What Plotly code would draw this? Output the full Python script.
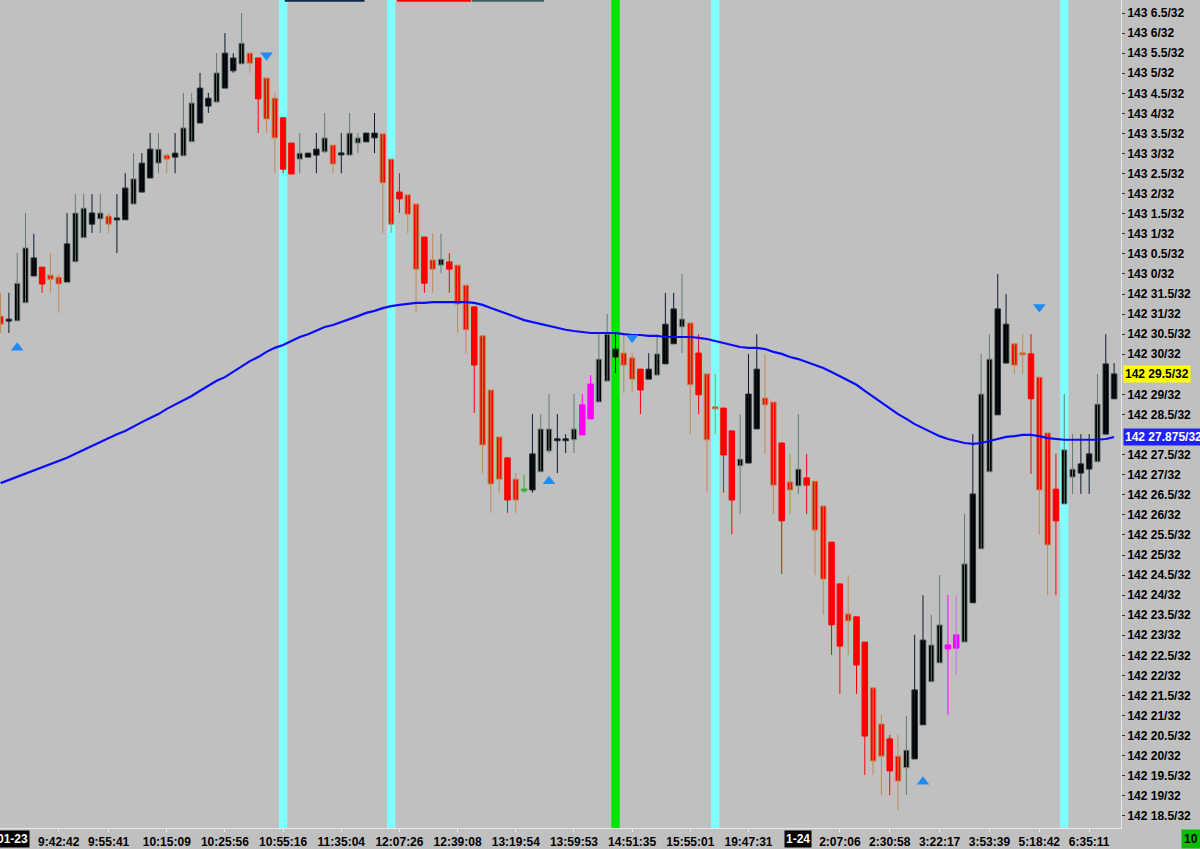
import plotly.graph_objects as go

# ---- price data in 32nds above 142 (e.g. 29.5 -> 142 29.5/32) ----
opens = [30.95, 30.85, 30.83, 31.28, 31.95, 32.17, 31.97, 31.92, 31.80, 32.30,
         32.90, 33.24, 33.37, 33.44, 33.37, 33.35, 33.74, 34.04, 34.39, 34.76,
         34.96, 34.91, 34.94, 35.29, 35.76, 36.18, 36.28, 36.63, 37.06, 37.23,
         37.50, 37.38, 36.88, 36.38, 35.89, 35.26, 34.86, 34.91, 34.96, 35.04,
         35.21, 34.99, 34.96, 35.26, 35.29, 35.39, 35.49, 34.86, 34.04, 33.97,
         33.74, 32.92, 32.35, 32.22, 32.30, 32.22, 31.72, 31.18, 30.46, 29.11,
         27.94, 27.42, 26.89, 26.62, 26.62, 27.07, 27.59, 27.87, 27.87, 27.87,
         27.99, 28.39, 28.81, 29.33, 29.93, 30.03, 29.91, 29.63, 29.38, 29.48,
         29.76, 30.26, 30.68, 30.78, 30.03, 29.51, 28.69, 28.66, 28.09, 27.22,
         27.29, 28.14, 28.91, 28.81, 27.79, 26.82, 26.72, 26.92, 26.84, 26.22,
         25.32, 24.28, 23.53, 23.46, 22.83, 21.69, 20.79, 20.42, 19.99, 19.70,
         19.92, 20.77, 21.84, 22.31, 22.66, 22.68, 22.83, 23.81, 25.15, 27.07,
         28.49, 29.78, 30.26, 30.01, 30.01, 29.43, 28.04, 26.64, 26.27, 26.94,
         27.04, 27.14, 27.32, 28.01, 28.89]
highs = [31.53, 31.53, 32.52, 33.52, 33.00, 32.17, 32.52, 32.00, 33.52, 33.99,
         33.99, 33.99, 33.99, 33.52, 33.99, 34.51, 35.01, 35.01, 35.51, 35.51,
         35.01, 35.51, 36.51, 36.51, 37.01, 36.51, 37.50, 38.00, 37.50, 38.50,
         37.50, 37.38, 36.88, 36.51, 35.89, 35.26, 35.51, 35.01, 35.51, 36.01,
         35.21, 35.51, 36.01, 35.51, 35.51, 36.01, 35.49, 34.86, 34.51, 33.97,
         33.74, 32.92, 33.02, 33.00, 32.52, 32.22, 31.72, 31.18, 30.46, 29.11,
         27.94, 27.42, 27.04, 26.99, 28.51, 28.51, 29.01, 28.51, 28.01, 29.01,
         29.01, 29.48, 30.50, 31.00, 30.53, 30.53, 30.03, 29.63, 30.03, 30.50,
         31.53, 31.53, 32.00, 30.78, 30.50, 29.51, 29.51, 28.66, 28.09, 28.51,
         30.01, 30.50, 30.01, 28.81, 27.79, 27.52, 28.51, 27.52, 26.84, 26.22,
         25.32, 24.28, 24.50, 23.46, 22.83, 21.69, 21.02, 20.52, 20.52, 20.99,
         23.01, 24.00, 23.51, 24.50, 24.00, 24.00, 26.02, 28.01, 30.01, 30.50,
         32.00, 31.50, 30.26, 30.50, 30.50, 29.43, 28.04, 27.52, 29.01, 28.01,
         28.01, 28.01, 29.51, 30.50, 29.78]
lows = [30.53, 30.53, 30.83, 31.28, 31.95, 31.53, 31.53, 31.03, 31.80, 32.30,
        32.90, 33.02, 33.02, 33.02, 32.52, 33.35, 33.74, 34.04, 34.39, 34.51,
        34.51, 34.51, 34.94, 35.29, 35.76, 36.01, 36.28, 36.63, 37.01, 37.23,
        37.01, 35.51, 35.51, 34.51, 34.51, 34.49, 34.51, 34.91, 34.51, 35.01,
        34.51, 34.51, 34.96, 35.01, 35.29, 35.01, 33.02, 33.02, 33.52, 33.02,
        31.03, 31.53, 31.53, 32.02, 31.53, 30.53, 30.03, 28.54, 27.04, 26.05,
        26.55, 26.05, 26.05, 26.55, 26.55, 27.07, 27.54, 27.04, 27.54, 27.54,
        27.99, 28.39, 28.81, 29.33, 29.53, 29.04, 29.04, 28.51, 29.38, 29.48,
        29.76, 30.26, 30.03, 28.01, 28.51, 26.55, 28.01, 26.55, 25.52, 26.02,
        27.29, 28.14, 27.52, 26.02, 24.53, 26.02, 26.52, 26.02, 24.50, 23.51,
        22.51, 21.54, 22.51, 21.54, 19.52, 19.52, 19.02, 19.02, 18.65, 19.02,
        19.92, 20.77, 21.84, 22.31, 21.02, 22.01, 22.83, 23.81, 25.15, 27.07,
        28.49, 29.78, 29.51, 29.51, 27.02, 25.50, 24.00, 24.00, 26.27, 26.52,
        26.52, 26.52, 27.32, 28.01, 28.89]
closes = [30.75, 30.85, 31.77, 32.65, 32.40, 31.75, 31.87, 31.75, 32.75, 33.52,
          33.64, 33.52, 33.52, 33.24, 33.37, 34.14, 34.37, 34.76, 35.11, 35.11,
          34.86, 35.01, 35.64, 36.26, 36.63, 36.38, 37.01, 37.50, 37.38, 37.75,
          37.25, 36.36, 35.86, 35.39, 34.61, 34.49, 35.01, 35.01, 35.11, 35.39,
          34.74, 34.99, 35.51, 35.39, 35.51, 35.51, 34.27, 33.24, 33.87, 33.49,
          32.12, 31.77, 32.12, 32.37, 32.12, 31.25, 30.61, 29.73, 27.74, 26.77,
          26.89, 26.37, 26.37, 26.62, 27.52, 28.14, 28.14, 27.87, 27.87, 28.14,
          28.74, 29.26, 29.88, 30.50, 30.13, 29.73, 29.38, 29.11, 29.63, 30.01,
          30.75, 31.13, 30.88, 29.24, 28.99, 27.87, 28.64, 27.49, 26.37, 27.39,
          29.01, 29.63, 28.74, 26.74, 25.85, 26.62, 27.14, 26.74, 25.62, 24.40,
          23.26, 22.73, 23.36, 22.26, 20.49, 19.87, 19.99, 19.62, 19.37, 20.14,
          21.64, 22.88, 22.76, 23.26, 22.76, 23.01, 24.78, 26.52, 29.01, 29.88,
          31.13, 30.75, 29.73, 30.01, 28.89, 26.62, 25.25, 25.85, 27.62, 27.14,
          27.27, 27.52, 28.76, 29.76, 29.51]
# body kind: r=red (down), k=black (up), m=magenta, g=green
body_kind = ("rkkkkrrrkk" "kkkrkkkkkk" "rkkkkkkkkk" "rrrrrrkkkk" "rkkkkkrrrr"
             "rrrkrrrrrr" "rrrgkkkkkk" "mmkkkrrrkk" "kkkrrrrrrk" "kkrrrrkrrr"
             "rrrrrrrrrk" "kkkkmmkkkk" "kkrrrrrrkk" "kkkkk")
# wick kind: t=tan, r=red, d=dark, s=slate, m=magenta, p=purple, g=green
wick_kind = ("tdssdrttds" "sdstddsdds" "tdssddsdds" "trttrrsdds" "tdssddttrt"
             "trtsrttrtt" "trtgdssdds" "mmssdttrds" "ddstrttrrs" "ddttrtsrtt"
             "rrtrrttrts" "ddssmpsdss" "ddttrttrss" "ddsdd")
moving_avg = [26.79, 26.87, 26.94, 27.04, 27.12, 27.19, 27.27, 27.34, 27.42, 27.52,
              27.62, 27.72, 27.82, 27.91, 28.01, 28.09, 28.21, 28.31, 28.41, 28.51,
              28.64, 28.74, 28.84, 28.96, 29.09, 29.21, 29.34, 29.43, 29.56, 29.71,
              29.83, 29.93, 30.06, 30.16, 30.23, 30.33, 30.43, 30.50, 30.60, 30.68,
              30.73, 30.80, 30.88, 30.95, 31.03, 31.08, 31.15, 31.20, 31.23, 31.25,
              31.28, 31.28, 31.30, 31.30, 31.30, 31.30, 31.30, 31.28, 31.23, 31.15,
              31.08, 31.00, 30.93, 30.85, 30.80, 30.75, 30.70, 30.65, 30.61, 30.58,
              30.55, 30.53, 30.53, 30.53, 30.53, 30.50, 30.48, 30.48, 30.46, 30.46,
              30.43, 30.43, 30.43, 30.43, 30.41, 30.38, 30.33, 30.28, 30.23, 30.18,
              30.16, 30.16, 30.13, 30.06, 30.01, 29.93, 29.88, 29.81, 29.73, 29.66,
              29.56, 29.46, 29.36, 29.24, 29.09, 28.94, 28.79, 28.64, 28.51, 28.39,
              28.26, 28.16, 28.06, 27.96, 27.89, 27.84, 27.79, 27.77, 27.79, 27.84,
              27.89, 27.94, 27.96, 27.99, 27.99, 27.96, 27.91, 27.89, 27.87, 27.87,
              27.87, 27.87, 27.87, 27.89, 27.94]

signal_idx = [2, 32, 66, 76, 111, 125]
signal_val = [30.16, 37.45, 26.84, 30.41, 19.35, 31.18]
signal_dir = ["up", "down", "up", "down", "up", "down"]

cyan_bars = [34, 47, 86, 128]
green_bars = [74]

x_tick_idx = [7, 13, 20, 27, 34, 41, 48, 55, 62, 69, 76, 83, 90, 101, 107, 113, 119, 125, 131]
x_tick_text = ["9:42:42", "9:55:41", "10:15:09", "10:25:56", "10:55:16", "11:35:04",
               "12:07:26", "12:39:08", "13:19:54", "13:59:53", "14:51:35", "15:55:01",
               "19:47:31", "2:07:06", "2:30:58", "3:22:17", "3:53:39", "5:18:42", "6:35:11"]
date_idx = [96]
date_text = ["1-24"]

# 142 28/32 and 142 29.5/32 are covered by the blue / yellow value boxes
y_tick_vals = [18.5, 19, 19.5, 20, 20.5, 21, 21.5, 22, 22.5, 23, 23.5, 24, 24.5, 25,
               25.5, 26, 26.5, 27, 27.5, 28.5, 29, 30, 30.5,
               31, 31.5, 32, 32.5, 33, 33.5, 34, 34.5, 35, 35.5, 36, 36.5, 37, 37.5, 38, 38.5]
y_tick_text = ["142 18.5/32", "142 19/32", "142 19.5/32", "142 20/32", "142 20.5/32",
               "142 21/32", "142 21.5/32", "142 22/32", "142 22.5/32", "142 23/32",
               "142 23.5/32", "142 24/32", "142 24.5/32", "142 25/32", "142 25.5/32",
               "142 26/32", "142 26.5/32", "142 27/32", "142 27.5/32",
               "142 28.5/32", "142 29/32", "142 30/32", "142 30.5/32",
               "142 31/32", "142 31.5/32", "143 0/32", "143 0.5/32", "143 1/32",
               "143 1.5/32", "143 2/32", "143 2.5/32", "143 3/32", "143 3.5/32",
               "143 4/32", "143 4.5/32", "143 5/32", "143 5.5/32", "143 6/32", "143 6.5/32"]
last_price_text = "142 29.5/32"
ma_last_text = "142 27.875/32"

# ---- styles ----
BODY_COL = {"r": "#ff0000", "k": "#000000", "m": "#ff00ff", "g": "#3cb43c"}
WICK_COL = {"t": "#c08a50", "r": "#ff0000", "d": "#0c1a2c", "s": "#647a70",
            "m": "#ff00ff", "p": "#c070ff", "g": "#30b030"}
OUTLINE_K = {"d": "#2a3838", "s": "#8a9a94"}
BG = "#c0c0c0"
FONT = "Liberation Sans"

n = len(opens)
idx = list(range(n))

fig = go.Figure()

# wicks grouped by colour
for key, col in WICK_COL.items():
    xs, ys = [], []
    for i in idx:
        if wick_kind[i] == key:
            xs += [i, i, None]
            ys += [lows[i], highs[i], None]
    if xs:
        fig.add_trace(go.Scatter(x=xs, y=ys, mode="lines",
                                 line=dict(color=col, width=1), hoverinfo="skip"))

# bodies
bases, heights, bcols, ocols = [], [], [], []
for i in idx:
    lo = min(opens[i], closes[i])
    hi = max(opens[i], closes[i])
    h = max(hi - lo, 0.05)
    bases.append(lo if hi - lo >= 0.05 else lo - 0.025)
    heights.append(h)
    bk = body_kind[i]
    bcols.append(BODY_COL[bk])
    if bk == "k":
        ocols.append(OUTLINE_K.get(wick_kind[i], "#2a3838"))
    elif bk == "r":
        ocols.append(WICK_COL[wick_kind[i]])
    else:
        ocols.append(BODY_COL[bk])
fig.add_trace(go.Bar(x=idx, y=heights, base=bases, width=0.66,
                     marker=dict(color=bcols, line=dict(color=ocols, width=1)),
                     hoverinfo="skip"))

# moving average
fig.add_trace(go.Scatter(x=idx, y=moving_avg, mode="lines",
                         line=dict(color="#0a0aff", width=2.2), hoverinfo="skip"))

# signal triangles
fig.add_trace(go.Scatter(
    x=signal_idx, y=signal_val, mode="markers",
    marker=dict(symbol=["triangle-up" if d == "up" else "triangle-down" for d in signal_dir],
                size=11, color="#1e8cf0", line=dict(width=0)),
    hoverinfo="skip"))

shapes = []
for b in cyan_bars:
    shapes.append(dict(type="rect", xref="x", yref="paper", x0=b - 0.5, x1=b + 0.5,
                       y0=0, y1=1, fillcolor="#80ffff", line=dict(width=0), layer="below"))
for b in green_bars:
    shapes.append(dict(type="rect", xref="x", yref="paper", x0=b - 0.5, x1=b + 0.5,
                       y0=0, y1=1, fillcolor="#00e600", line=dict(width=0), layer="below"))
# thin indicator strips along the top edge
for x0, x1, col in [(34.2, 43.8, "#0a2a4a"), (47.7, 56.6, "#ff0000"), (56.7, 65.4, "#3c6060")]:
    shapes.append(dict(type="rect", xref="x", yref="paper", x0=x0, x1=x1,
                       y0=0.9978, y1=1, fillcolor=col, line=dict(width=0)))

bold = dict(family=FONT, size=12, color="black", weight="bold")
annotations = [
    dict(xref="paper", yref="y", x=1, y=closes[-1], xanchor="left", xshift=2,
         text=last_price_text, showarrow=False, bgcolor="#ffff00",
         font=bold, borderpad=1),
    dict(xref="paper", yref="y", x=1, y=moving_avg[-1], xanchor="left", xshift=2,
         text=ma_last_text, showarrow=False, bgcolor="#2020ff",
         font=dict(family=FONT, size=12, color="white", weight="bold"), borderpad=1),
    dict(xref="paper", yref="paper", x=30 / 1121, y=0, xanchor="right", yanchor="top",
         yshift=-2, text="01-23", showarrow=False, bgcolor="#000000",
         font=dict(family=FONT, size=12, color="white", weight="bold"), borderpad=1),
    dict(xref="paper", yref="paper", x=1181 / 1121, y=0, xanchor="left", yanchor="top",
         yshift=-1, text="10 ", showarrow=False, bgcolor="#00c000",
         font=bold, borderpad=2),
]
for di, dt in zip(date_idx, date_text):
    annotations.append(dict(xref="x", yref="paper", x=di, y=0, yanchor="top", yshift=-2,
                            text=dt, showarrow=False, bgcolor="#000000",
                            font=dict(family=FONT, size=12, color="white", weight="bold"),
                            borderpad=1))

fig.update_layout(
    width=1200, height=849,
    margin=dict(l=0, r=79, t=0, b=21),
    paper_bgcolor=BG, plot_bgcolor=BG,
    showlegend=False, barmode="overlay", hovermode=False,
    shapes=shapes, annotations=annotations,
    xaxis=dict(range=[-0.07, 134.83], showgrid=False, zeroline=False,
               tickmode="array", tickvals=x_tick_idx, ticktext=x_tick_text,
               ticks="outside", ticklen=3, tickcolor="#e8e8e8",
               showline=True, linecolor="#e8e8e8", linewidth=1,
               tickfont=bold, fixedrange=True),
    yaxis=dict(range=[18.20, 38.824], side="right", showgrid=False, zeroline=False,
               tickmode="array", tickvals=y_tick_vals, ticktext=y_tick_text,
               ticks="outside", ticklen=3, tickcolor="#303030",
               showline=True, linecolor="#e8e8e8", linewidth=1,
               tickfont=bold, fixedrange=True),
)

fig.write_html(
    "out.html",
    config={"displayModeBar": False, "staticPlot": True},
    post_script="document.body.style.margin='0';document.body.style.overflow='hidden';"
                "document.body.style.background='#c0c0c0';",
)
